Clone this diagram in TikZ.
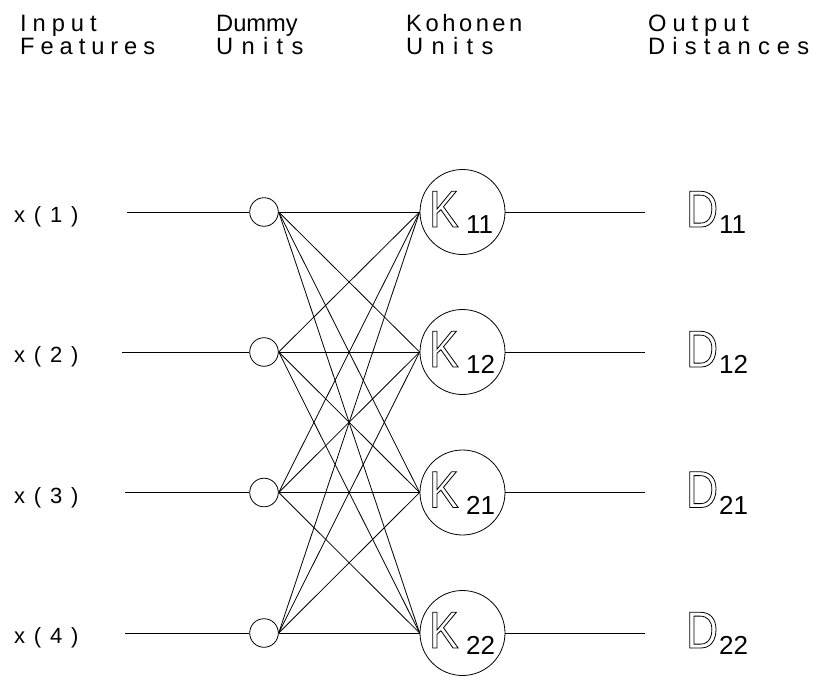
\documentclass[tikz,border=0pt]{standalone}
\usepackage{fontspec}
\setmainfont{Liberation Sans}
\newfontfamily\headfont{Liberation Sans}[LetterSpace=25]
\newfontfamily\tightfont{Liberation Sans}
\newfontfamily\inputfont{Liberation Sans}[LetterSpace=40]
\newfontfamily\bigfont{Liberation Sans}[FakeStretch=0.85]
% hollow (stroked) glyphs for the unit letters
\newcommand\hollow[1]{\special{pdf:literal direct 1 Tr 0.8 w}#1\special{pdf:literal direct 0 Tr}}
% tracking for a single heading word
\newcommand\track[2]{{\addfontfeature{LetterSpace=#1}#2}}

\tikzset{
  wire/.style={line width=0.8pt, black},
  dummy/.style={circle, draw, line width=0.8pt, minimum size=28.6pt, inner sep=0pt},
  koh/.style={circle, draw, line width=0.8pt, minimum size=85pt, inner sep=0pt},
  head/.style={anchor=base west, inner sep=0pt, font=\headfont\fontsize{23.7pt}{28pt}\selectfont},
  headtight/.style={anchor=base west, inner sep=0pt, font=\tightfont\fontsize{23.7pt}{28pt}\selectfont},
  xlab/.style={anchor=base west, inner sep=0pt, font=\inputfont\fontsize{22pt}{26pt}\selectfont},
  bigl/.style={anchor=base west, inner sep=0pt, font=\bigfont\fontsize{52pt}{60pt}\selectfont},
  subl/.style={anchor=base west, inner sep=0pt, font=\fontsize{26pt}{30pt}\selectfont},
}

\begin{document}
\begin{tikzpicture}[x=1pt, y=-1pt]
\useasboundingbox (0,0) rectangle (817,677);

% column headings
\node[head] (h1a) at (20,32) {Input};
\node[head] (h1b) at (20,54.5) {Features};
\node[headtight] (h2a) at (216,32) {Dummy};
\node[head] (h2b) at (216,54.5) {\track{35}{Units}};
\node[head] (h3a) at (406,32) {\track{15}{Kohonen}};
\node[head] (h3b) at (406,54.5) {\track{35}{Units}};
\node[head] (h4a) at (648,32) {Output};
\node[head] (h4b) at (648,54.5) {\track{30}{Distances}};

% units of each row
\foreach \i/\y/\s/\xs in {1/212/11/127, 2/352/12/122, 3/492.5/21/125, 4/633/22/125} {
  \node[dummy] (d\i) at (264,\y) {};
  \node[koh] (k\i) at (462.5,\y) {};
  \coordinate (in\i) at (\xs,\y);
  \coordinate (out\i) at (645,\y);
  \node[xlab] (x\i) at (14,\y+10.5) {x(\i)};
  \node[bigl] (kl\i) at (429,\y+15) {\hollow{K}};
  \node[subl] (ks\i) at (466,\y+21.5) {\s};
  \node[bigl] (dl\i) at (686,\y+15) {\hollow{D}};
  \node[subl] (ds\i) at (719,\y+21.5) {\s};
}

% input and output lines
\foreach \i in {1,...,4} {
  \draw[wire] (in\i) -- (d\i.west);
  \draw[wire] (k\i.east) -- (out\i);
}

% full connection dummy -> Kohonen
\foreach \i in {1,...,4}
  \foreach \j in {1,...,4}
    \draw[wire] (d\i.east) -- (k\j.west);
\end{tikzpicture}
\end{document}
